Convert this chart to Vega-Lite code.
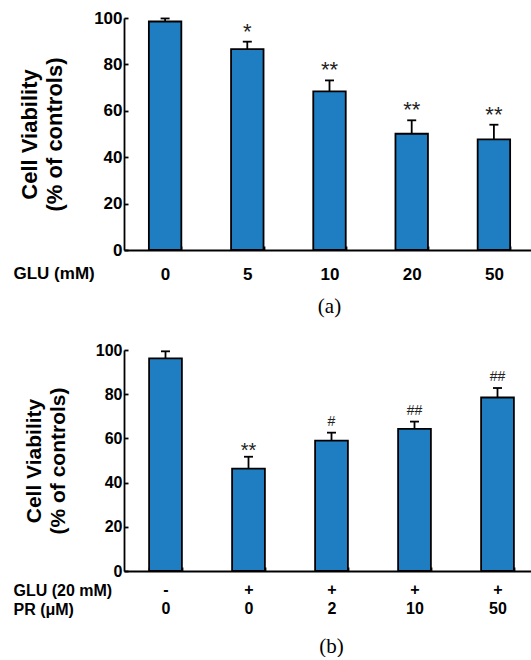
{
  "$schema": "https://vega.github.io/schema/vega-lite/v6.json",
  "padding": {"left": 13, "top": 9, "right": 0, "bottom": 0},
  "spacing": 25,
  "background": "#ffffff",
  "config": {
    "view": {"stroke": null},
    "axis": {
      "grid": false,
      "labelFont": "Liberation Sans",
      "labelFontWeight": "bold",
      "labelColor": "#000000",
      "titleFont": "Liberation Sans",
      "titleFontWeight": "bold",
      "titleColor": "#000000",
      "domainColor": "#000000",
      "tickColor": "#000000",
      "domainWidth": 1.8,
      "tickWidth": 1.8
    },
    "title": {"font": "Liberation Serif", "fontSize": 21, "fontWeight": "normal", "color": "#000000"}
  },
  "vconcat": [
    {
      "width": 411,
      "height": 232,
      "title": {"text": "(a)", "orient": "bottom", "offset": 13},
      "data": {
        "values": [
          {"glu": "0", "mean": 98.5, "err": 99.8, "sig": ""},
          {"glu": "5", "mean": 86.6, "err": 89.8, "sig": "*"},
          {"glu": "10", "mean": 68.4, "err": 73.1, "sig": "**"},
          {"glu": "20", "mean": 50.1, "err": 55.9, "sig": "**"},
          {"glu": "50", "mean": 47.7, "err": 54.0, "sig": "**"}
        ]
      },
      "encoding": {
        "x": {
          "field": "glu",
          "type": "nominal",
          "sort": null,
          "scale": {"paddingInner": 0.605, "paddingOuter": 0.3025},
          "axis": {
            "tickBand": "extent",
            "tickSize": -4,
            "labelPadding": 20.5,
            "labelAngle": 0,
            "labelFontSize": 17,
            "labelBaseline": "top",
            "title": "GLU (mM)",
            "titleFontSize": 17,
            "titleAlign": "left",
            "titleAnchor": null,
            "titleX": -111,
            "titleY": 28.5,
            "titleBaseline": "alphabetic"
          }
        }
      },
      "layer": [
        {
          "mark": {"type": "bar", "fill": "#1F7EC2", "stroke": "#000000", "strokeWidth": 1.8},
          "encoding": {
            "y": {
              "field": "mean",
              "type": "quantitative",
              "scale": {"domain": [0, 100], "nice": false},
              "title": ["Cell Viability", "(% of controls)"],
              "axis": {
                "values": [0, 20, 40, 60, 80, 100],
                "tickSize": -4,
                "labelPadding": 6,
                "labelFontSize": 17,
                "titleFontSize": 22,
                "titleLineHeight": 25,
                "titlePadding": 27
              }
            }
          }
        },
        {
          "mark": {"type": "rule", "stroke": "#000000", "strokeWidth": 1.8},
          "encoding": {
            "y": {"field": "mean", "type": "quantitative", "title": ["Cell Viability", "(% of controls)"]},
            "y2": {"field": "err"}
          }
        },
        {
          "mark": {"type": "tick", "orient": "horizontal", "size": 9, "thickness": 1.8, "color": "#000000", "opacity": 1},
          "encoding": {
            "y": {"field": "err", "type": "quantitative", "title": ["Cell Viability", "(% of controls)"]}
          }
        },
        {
          "transform": [{"filter": "datum.sig != ''"}],
          "mark": {"type": "text", "font": "Liberation Sans", "fontSize": 22, "baseline": "alphabetic", "dy": -3, "color": "#222222"},
          "encoding": {
            "y": {"field": "err", "type": "quantitative", "title": ["Cell Viability", "(% of controls)"]},
            "text": {"field": "sig"}
          }
        }
      ]
    },
    {
      "width": 415,
      "height": 221,
      "title": {"text": "(b)", "orient": "bottom", "offset": 19},
      "data": {
        "values": [
          {"grp": "-|0", "mean": 96.2, "err": 99.4, "sig": ""},
          {"grp": "+|0", "mean": 46.3, "err": 51.7, "sig": "**"},
          {"grp": "+|2", "mean": 59.0, "err": 62.6, "sig": "#"},
          {"grp": "+|10", "mean": 64.3, "err": 67.6, "sig": "##"},
          {"grp": "+|50", "mean": 78.5, "err": 82.8, "sig": "##"}
        ]
      },
      "encoding": {
        "x": {
          "field": "grp",
          "type": "nominal",
          "sort": null,
          "scale": {"paddingInner": 0.605, "paddingOuter": 0.3025},
          "axis": {
            "tickBand": "extent",
            "tickSize": -4,
            "labelPadding": 14,
            "labelAngle": 0,
            "labelFontSize": 16,
            "labelLineHeight": 19,
            "labelBaseline": "top",
            "labelExpr": "split(datum.label, '|')",
            "title": ["GLU (20 mM)", "PR (μM)"],
            "titleFontSize": 16,
            "titleLineHeight": 19,
            "titleAlign": "left",
            "titleAnchor": null,
            "titleX": -111,
            "titleY": 24,
            "titleBaseline": "alphabetic"
          }
        }
      },
      "layer": [
        {
          "mark": {"type": "bar", "fill": "#1F7EC2", "stroke": "#000000", "strokeWidth": 1.8},
          "encoding": {
            "y": {
              "field": "mean",
              "type": "quantitative",
              "scale": {"domain": [0, 100], "nice": false},
              "title": ["Cell Viability", "(% of controls)"],
              "axis": {
                "values": [0, 20, 40, 60, 80, 100],
                "tickSize": -4,
                "labelPadding": 6,
                "labelFontSize": 16,
                "titleFontSize": 21,
                "titleLineHeight": 24,
                "titlePadding": 27
              }
            }
          }
        },
        {
          "mark": {"type": "rule", "stroke": "#000000", "strokeWidth": 1.8},
          "encoding": {
            "y": {"field": "mean", "type": "quantitative", "title": ["Cell Viability", "(% of controls)"]},
            "y2": {"field": "err"}
          }
        },
        {
          "mark": {"type": "tick", "orient": "horizontal", "size": 9, "thickness": 1.8, "color": "#000000", "opacity": 1},
          "encoding": {
            "y": {"field": "err", "type": "quantitative", "title": ["Cell Viability", "(% of controls)"]}
          }
        },
        {
          "transform": [{"filter": "datum.sig == '**'"}],
          "mark": {"type": "text", "font": "Liberation Sans", "fontSize": 20, "baseline": "alphabetic", "dy": 0, "color": "#222222"},
          "encoding": {
            "y": {"field": "err", "type": "quantitative", "title": ["Cell Viability", "(% of controls)"]},
            "text": {"field": "sig"}
          }
        },
        {
          "transform": [{"filter": "datum.sig == '#' || datum.sig == '##'"}],
          "mark": {"type": "text", "font": "Liberation Sans", "fontSize": 14, "baseline": "alphabetic", "dy": -7, "color": "#222222"},
          "encoding": {
            "y": {"field": "err", "type": "quantitative", "title": ["Cell Viability", "(% of controls)"]},
            "text": {"field": "sig"}
          }
        }
      ]
    }
  ]
}
